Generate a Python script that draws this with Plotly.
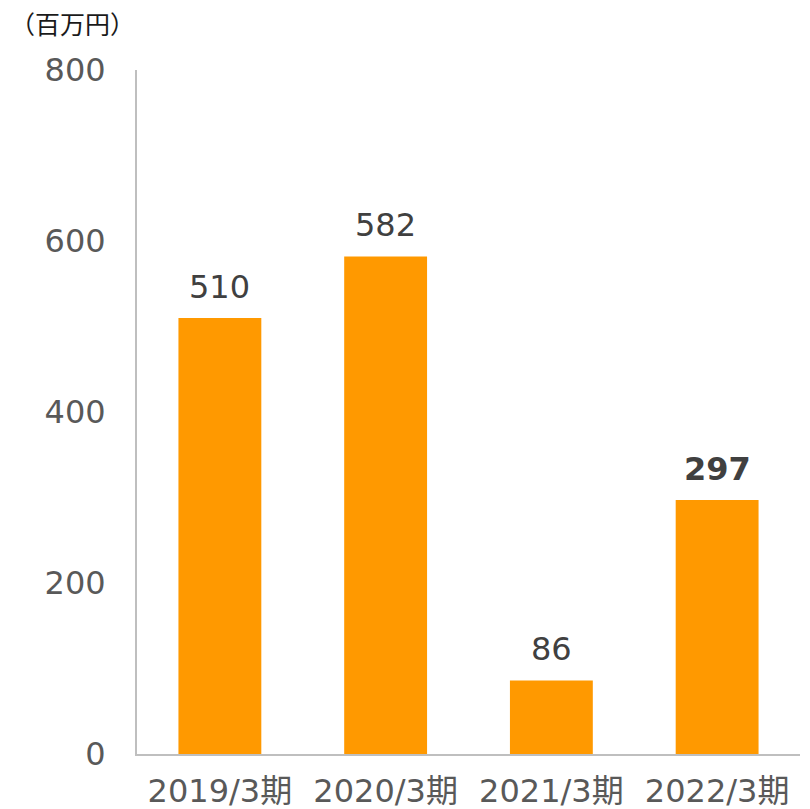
import plotly.graph_objects as go

categories = ["2019/3期", "2020/3期", "2021/3期", "2022/3期"]
values = [510, 582, 86, 297]
label_bold = [False, False, False, True]
y_ticks = [0, 200, 400, 600, 800]

bar_color = "#FF9900"
font_main = "DejaVu Sans, Noto Sans CJK JP, sans-serif"

fig = go.Figure()
fig.add_trace(go.Bar(x=categories, y=values, marker=dict(color=bar_color, line=dict(width=0)),
                     hoverinfo="skip"))

for c, v, b in zip(categories, values, label_bold):
    fig.add_annotation(x=c, y=v, text=f"<b>{v}</b>" if b else str(v),
                       showarrow=False, yanchor="bottom", yshift=10,
                       font=dict(family=font_main, size=32, color="#404040"))

fig.add_annotation(xref="paper", yref="paper", x=-0.0975, y=1.069, xanchor="center", yanchor="middle",
                   text="（百万円）", showarrow=False, borderpad=0,
                   font=dict(family="Noto Sans CJK JP, sans-serif", size=25, color="#1a1a1a"))

fig.update_layout(
    width=810, height=809,
    margin=dict(l=129, r=18, t=62, b=63, autoexpand=False),
    plot_bgcolor="white", paper_bgcolor="white",
    bargap=0.5, showlegend=False,
    xaxis=dict(showline=True, linecolor="#BFBFBF", linewidth=2, showgrid=False, ticks="",
               automargin=False,
               tickfont=dict(family=font_main, size=32, color="#595959"), ticklabelstandoff=8),
    yaxis=dict(range=[0, 800], tickvals=y_ticks, showline=True, linecolor="#BFBFBF", linewidth=2,
               showgrid=False, zeroline=False, ticks="", automargin=False,
               tickfont=dict(family=font_main, size=32, color="#595959"), ticklabelstandoff=23),
)

fig.write_html("out.html")
